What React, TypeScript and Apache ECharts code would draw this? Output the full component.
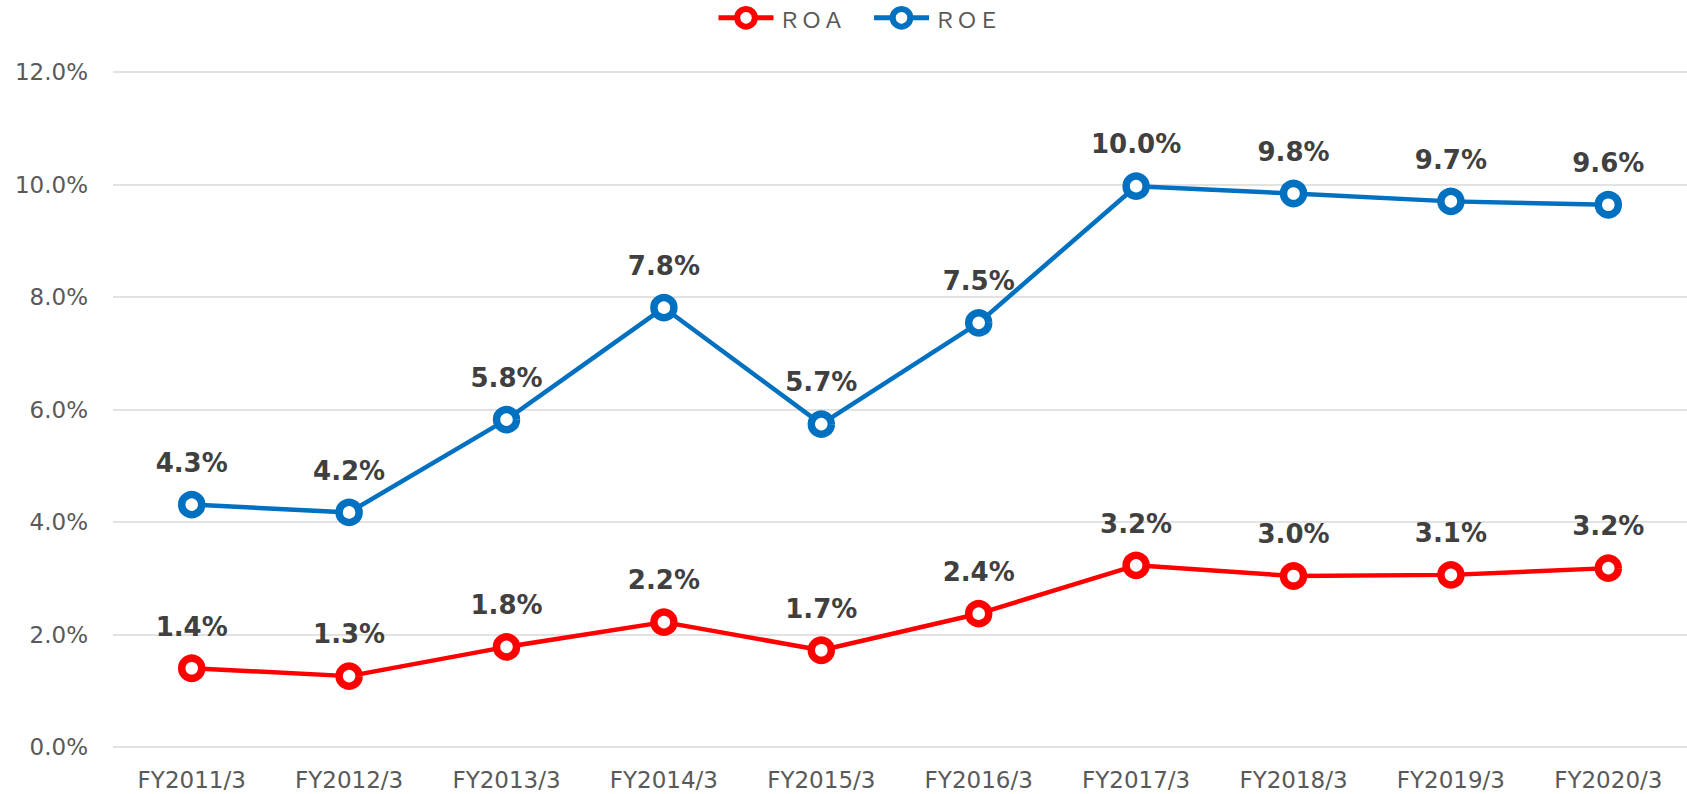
import React, { useEffect, useRef } from "react";
import * as echarts from "echarts";

const categories = [
  "FY2011/3", "FY2012/3", "FY2013/3", "FY2014/3", "FY2015/3",
  "FY2016/3", "FY2017/3", "FY2018/3", "FY2019/3", "FY2020/3",
];
const roa = [1.4, 1.26, 1.78, 2.22, 1.72, 2.37, 3.23, 3.04, 3.06, 3.18];
const roe = [4.31, 4.17, 5.82, 7.81, 5.74, 7.54, 9.97, 9.84, 9.7, 9.64];
const yTicks = { min: 0, max: 12, interval: 2 };
const seriesNames = ["ＲＯＡ", "ＲＯＥ"];
const seriesColors = ["#FF0000", "#0070C0"];

export default function App() {
  const ref = useRef<HTMLDivElement>(null);
  useEffect(() => {
    if (!ref.current) return;
    const chart = echarts.init(ref.current, null, { renderer: "svg" });
    const mkSeries = (name: string, data: number[], color: string) => ({
      name,
      type: "line",
      data,
      color,
      symbol: "circle",
      symbolSize: 20,
      lineStyle: { width: 4.5, color },
      itemStyle: { color: "#ffffff", borderColor: color, borderWidth: 7.5 },
      label: {
        show: true,
        position: "top",
        distance: 15,
        formatter: (p: any) => p.value.toFixed(1) + "%",
        fontFamily: "DejaVu Sans",
        fontWeight: "bold",
        fontSize: 26,
        color: "#404040",
      },
    });
    chart.setOption({
      animation: false,
      backgroundColor: "#ffffff",
      legend: {
        top: 1,
        left: 711,
        itemWidth: 55,
        itemHeight: 22,
        itemGap: 27,
        textStyle: {
          fontFamily: "Noto Sans CJK JP",
          fontSize: 22,
          color: "#595959",
        },
        data: seriesNames.map((n, i) => ({
          name: n,
          itemStyle: { color: "#ffffff", borderColor: seriesColors[i], borderWidth: 6 },
          lineStyle: { color: seriesColors[i], width: 5 },
        })),
      },
      grid: { left: 113, right: 0, top: 72, bottom: 47, containLabel: false },
      xAxis: {
        type: "category",
        data: categories,
        boundaryGap: true,
        axisLine: { show: false },
        axisTick: { show: false },
        axisLabel: {
          fontFamily: "DejaVu Sans",
          fontSize: 23,
          color: "#595959",
          margin: 21,
          interval: 0,
        },
      },
      yAxis: {
        type: "value",
        min: yTicks.min,
        max: yTicks.max,
        interval: yTicks.interval,
        axisLine: { show: false },
        axisTick: { show: false },
        splitLine: { lineStyle: { color: "#D9D9D9", width: 1.5 } },
        axisLabel: {
          fontFamily: "DejaVu Sans",
          fontSize: 23,
          color: "#595959",
          margin: 25,
          formatter: (v: number) => v.toFixed(1) + "%",
        },
      },
      series: [
        mkSeries(seriesNames[0], roa, seriesColors[0]),
        mkSeries(seriesNames[1], roe, seriesColors[1]),
      ],
    });
    return () => chart.dispose();
  }, []);
  return (
    <div
      ref={ref}
      style={{ position: "fixed", left: 0, top: 0, width: 1687, height: 794 }}
    />
  );
}
